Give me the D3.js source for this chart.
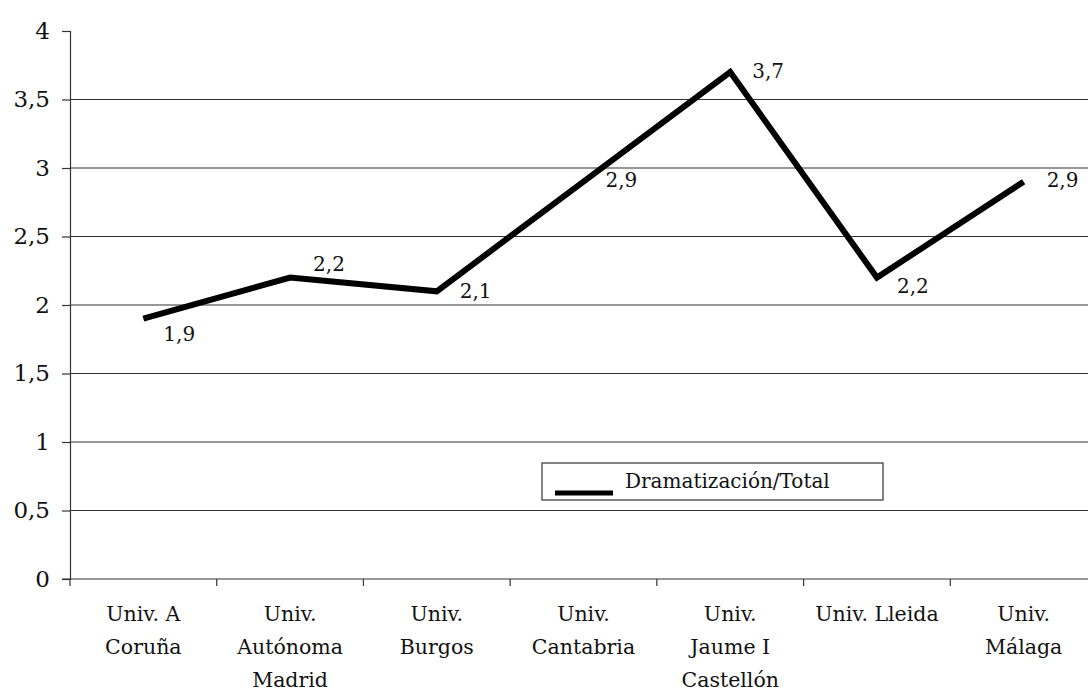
<!DOCTYPE html>
<html><head><meta charset="utf-8">
<script src="https://cdn.jsdelivr.net/npm/d3@7"></script>
<style>body{margin:0;background:#fff}svg{display:block}svg text{font-family:"DejaVu Serif",serif !important;fill:#111}</style>
</head><body>
<svg id="c" width="1088" height="692"></svg>
<script>
const categories = [["Univ. A","Coruña"],["Univ.","Autónoma","Madrid"],["Univ.","Burgos"],["Univ.","Cantabria"],["Univ.","Jaume I","Castellón"],["Univ. Lleida"],["Univ.","Málaga"]];
const values = [1.9, 2.2, 2.1, 2.9, 3.7, 2.2, 2.9];
const valueLabels = ["1,9","2,2","2,1","2,9","3,7","2,2","2,9"];
const yTicks = [0,0.5,1,1.5,2,2.5,3,3.5,4];
const seriesName = "Dramatización/Total";

const svg = d3.select("#c");
const mLeft = 70, mRight = 1097, mTop = 31, mBottom = 579;
const x = d3.scaleBand().domain(d3.range(categories.length)).range([mLeft, mRight]);
const y = d3.scaleLinear().domain([0,4]).range([mBottom, mTop]);
const fmt = d => String(d).replace(".", ",");

// gridlines
svg.append("g").selectAll("line").data(yTicks.filter(t => t > 0 && t < 4)).join("line")
  .attr("x1", mLeft).attr("x2", 1088).attr("y1", d => y(d)).attr("y2", d => y(d))
  .attr("stroke", "#333").attr("stroke-width", 1.2);

// y axis
const ya = svg.append("g").attr("transform", `translate(${mLeft},0)`)
  .call(d3.axisLeft(y).tickValues(yTicks).tickFormat(fmt).tickSize(8).tickPadding(12));
ya.attr("font-family", null);
ya.select(".domain").attr("stroke", "#333").attr("stroke-width", 1.2);
ya.selectAll(".tick line").attr("stroke", "#333").attr("stroke-width", 1.2);
ya.selectAll("text").style("font-size", "23px").attr("fill", "#111");

// x axis
const xa = svg.append("g").attr("transform", `translate(0,${mBottom})`);
xa.append("line").attr("x1", mLeft - 8).attr("x2", 1088).attr("y1", 0).attr("y2", 0).attr("stroke", "#333").attr("stroke-width", 1.2);
xa.selectAll("line.t").data(d3.range(categories.length + 1)).join("line").attr("class","t")
  .attr("x1", d => mLeft + d * x.step()).attr("x2", d => mLeft + d * x.step())
  .attr("y1", 0).attr("y2", 7).attr("stroke", "#333").attr("stroke-width", 1.2);
xa.selectAll("text").data(categories).join("text")
  .attr("text-anchor", "middle").style("font-size", "20.5px")
  .each(function(d, i) {
    const t = d3.select(this);
    d.forEach((s, k) => t.append("tspan").attr("x", x(i) + x.bandwidth()/2).attr("y", 42 + k * 33).text(s));
  });

// line
const cx = i => x(i) + x.bandwidth()/2;
svg.append("path").datum(values)
  .attr("d", d3.line().x((d,i) => cx(i)).y(d => y(d)))
  .attr("fill", "none").attr("stroke", "#000").attr("stroke-width", 6).attr("stroke-linejoin", "miter");

// value labels (offset relative to point)
const offs = [[20,22],[23,-7],[23,7],[22,5],[22,6],[20,15],[23,5]];
svg.append("g").selectAll("text").data(values).join("text")
  .attr("x", (d,i) => cx(i) + offs[i][0]).attr("y", (d,i) => y(d) + offs[i][1])
  .style("font-size", "20px").text((d,i) => valueLabels[i]);

// legend
const lg = svg.append("g").attr("transform", "translate(542,463)");
lg.append("rect").attr("width", 341).attr("height", 37).attr("fill", "#fff").attr("stroke", "#333").attr("stroke-width", 1.2);
lg.append("line").attr("x1", 13).attr("x2", 71).attr("y1", 30).attr("y2", 30).attr("stroke", "#000").attr("stroke-width", 5);
lg.append("text").attr("x", 83).attr("y", 25).style("font-size", "20px").text(seriesName);
</script>
</body></html>
